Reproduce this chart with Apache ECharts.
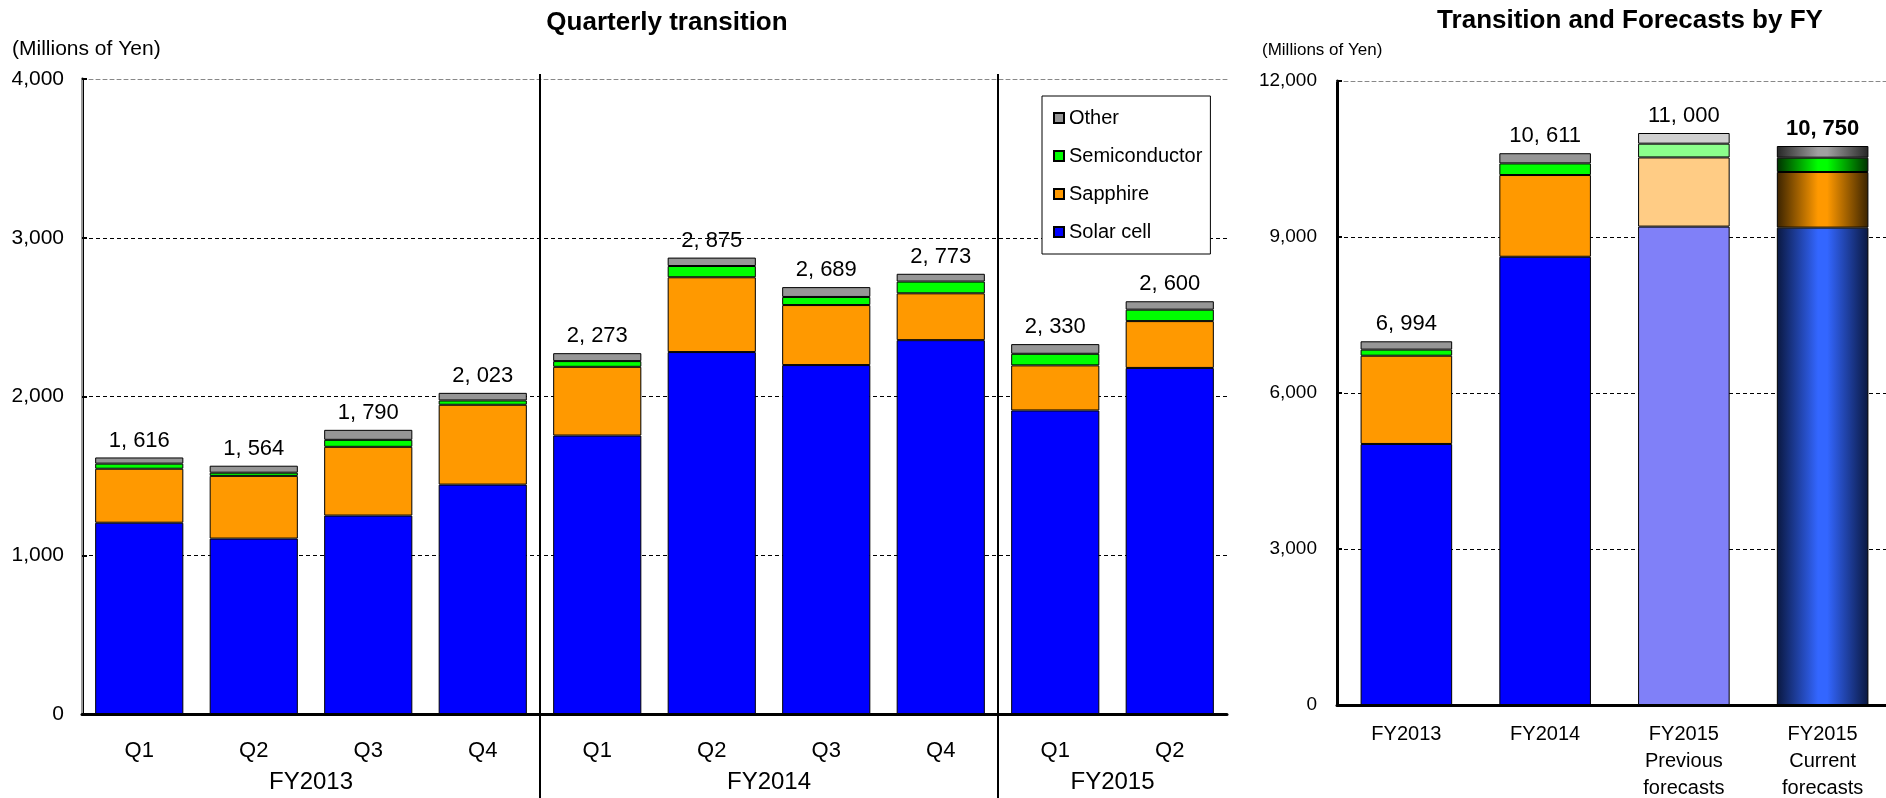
<!DOCTYPE html>
<html>
<head>
<meta charset="utf-8">
<title>Sales by segment</title>
<script src="https://cdn.jsdelivr.net/npm/echarts@6/dist/echarts.min.js"></script>
<style>
    html, body { margin: 0; padding: 0; background: #fff; }
    #main { width: 1886px; height: 798px; }
</style>
</head>
<body>
<div id="main"></div>
<script type="text/javascript">
    // left chart: quarterly
    var quarters = ['Q1', 'Q2', 'Q3', 'Q4', 'Q1', 'Q2', 'Q3', 'Q4', 'Q1', 'Q2'];
    var fiscalYears = ['FY2013', 'FY2014', 'FY2015'];
    var fyCenters = [2, 6, 9];      // middle of each fiscal year group, in quarter units
    var fyBreaks = [4, 8];          // where one fiscal year ends
    var solarQ = [1205, 1105, 1250, 1445, 1754, 2280, 2198, 2355, 1912, 2180];
    var sapphireQ = [340, 395, 433, 503, 433, 471, 378, 295, 284, 295];
    var semiQ = [32, 20, 44, 27, 36, 71, 51, 74, 73, 72];
    var otherQ = [39, 44, 63, 48, 50, 53, 62, 49, 61, 53];
    var totalQ = [1616, 1564, 1790, 2023, 2273, 2875, 2689, 2773, 2330, 2600];

    // right chart: by fiscal year
    var years = ['FY2013', 'FY2014', 'FY2015\nPrevious\nforecasts', 'FY2015\nCurrent\nforecasts'];
    var solarY = [5020, 8620, 9200, 9180];
    var sapphireY = [1697, 1572, 1330, 1070];
    var semiY = [117, 223, 265, 275];
    var otherY = [160, 196, 205, 225];
    var totalY = [6994, 10611, 11000, 10750];

    var segNames = ['Solar cell', 'Sapphire', 'Semiconductor', 'Other'];
    var segColors = ['#0000FF', '#FF9900', '#00FF00', '#969696'];
    var prevColors = ['#8080F8', '#FFCC85', '#8CFF8C', '#D0D0D0'];
    var darkColors = ['#0A1840', '#3A2300', '#003000', '#262626'];
    var brightColors = ['#3366FF', '#FF9900', '#00FF00', '#A0A0A0'];

    var font = "'Liberation Sans', Arial, sans-serif";

    function fmt(n) {
        return n.toLocaleString('en-US').replace(',', ', ');
    }

    var quarterSeg = [solarQ, sapphireQ, semiQ, otherQ];
    var yearSeg = [solarY, sapphireY, semiY, otherY];

    var series = [];
    segNames.forEach(function (name, i) {
        var s = {
            name: name,
            type: 'bar',
            stack: 'quarter',
            xAxisIndex: 0,
            yAxisIndex: 0,
            barCategoryGap: '23%',
            data: quarterSeg[i],
            itemStyle: { color: segColors[i], borderColor: '#000', borderWidth: 1 }
        };
        if (i == 3) {
            s.label = {
                show: true, position: 'top', distance: 6,
                color: '#000', fontSize: 22, fontFamily: font,
                formatter: function (p) { return fmt(totalQ[p.dataIndex]); }
            };
        }
        series.push(s);
    });

    segNames.forEach(function (name, i) {
        var data = yearSeg[i].map(function (v, j) {
            var item = { value: v };
            if (j == 2) {
                item.itemStyle = { color: prevColors[i] };
            } else if (j == 3) {
                item.itemStyle = {
                    color: new echarts.graphic.LinearGradient(0, 0, 1, 0, [
                        { offset: 0, color: darkColors[i] },
                        { offset: 0.45, color: brightColors[i] },
                        { offset: 0.55, color: brightColors[i] },
                        { offset: 1, color: darkColors[i] }
                    ])
                };
                if (i == 3) item.label = { fontWeight: 'bold' };
            }
            return item;
        });
        var s = {
            name: name,
            type: 'bar',
            stack: 'year',
            xAxisIndex: 3,
            yAxisIndex: 2,
            barCategoryGap: '34%',
            data: data,
            itemStyle: { color: segColors[i], borderColor: '#000', borderWidth: 1 }
        };
        if (i == 3) {
            s.label = {
                show: true, position: 'top', distance: 6,
                color: '#000', fontSize: 22, fontFamily: font,
                formatter: function (p) { return fmt(totalY[p.dataIndex]); }
            };
        }
        series.push(s);
    });

    var myChart = echarts.init(document.getElementById('main'));

    var option = {
        animation: false,
        backgroundColor: '#fff',
        textStyle: { fontFamily: font, color: '#000' },
        title: [
            { text: 'Quarterly transition', left: 667, top: 10, textAlign: 'center', padding: 0,
              textStyle: { fontSize: 26, fontWeight: 'bold', color: '#000', fontFamily: font } },
            { text: 'Transition and Forecasts by FY', left: 1630, top: 8, textAlign: 'center', padding: 0,
              textStyle: { fontSize: 26, fontWeight: 'bold', color: '#000', fontFamily: font } },
            { text: '(Millions of Yen)', left: 12, top: 39, padding: 0,
              textStyle: { fontSize: 21, fontWeight: 'normal', color: '#000', fontFamily: font } },
            { text: '(Millions of Yen)', left: 1262, top: 42, padding: 0,
              textStyle: { fontSize: 17, fontWeight: 'normal', color: '#000', fontFamily: font } }
        ],
        legend: {
            data: ['Other', 'Semiconductor', 'Sapphire', 'Solar cell'],
            orient: 'vertical',
            left: 1042,
            top: 96,
            icon: 'rect',
            itemWidth: 10,
            itemHeight: 10,
            itemGap: 18,
            padding: [12, 8, 12, 11],
            backgroundColor: '#fff',
            borderColor: '#000',
            borderWidth: 1,
            selectedMode: false,
            textStyle: { fontSize: 20, color: '#000', fontFamily: font }
        },
        grid: [
            { left: 82, right: 659, top: 79, bottom: 84, outerBoundsMode: 'none' },
            { left: 1337, right: -6, top: 81, bottom: 93, outerBoundsMode: 'none' }
        ],
        xAxis: [
            {
                gridIndex: 0, type: 'category', data: quarters,
                axisLine: { onZero: false, lineStyle: { color: '#000', width: 3 } },
                axisTick: { inside: true, length: 6, lineStyle: { color: '#000', width: 2 } },
                axisLabel: { color: '#000', fontSize: 22, margin: 26, fontFamily: font }
            },
            {
                gridIndex: 0, type: 'value', min: 0, max: 10, position: 'bottom',
                axisLine: { show: false, onZero: false },
                splitLine: { show: false },
                axisTick: { show: true, customValues: fyBreaks, length: 90, lineStyle: { color: '#000', width: 2 } },
                axisLabel: {
                    customValues: fyCenters, margin: 56, color: '#000', fontSize: 24, fontFamily: font,
                    formatter: function (v) { return fiscalYears[fyCenters.indexOf(v)]; }
                }
            },
            {
                gridIndex: 0, type: 'value', min: 0, max: 10, position: 'bottom',
                axisLine: { show: false, onZero: false },
                splitLine: { show: false },
                axisLabel: { show: false },
                axisTick: { show: true, customValues: fyBreaks, inside: true, length: 640, lineStyle: { color: '#000', width: 2 } }
            },
            {
                gridIndex: 1, type: 'category', data: years,
                axisLine: { onZero: false, lineStyle: { color: '#000', width: 3 } },
                axisTick: { inside: true, length: 6, lineStyle: { color: '#000', width: 2 } },
                axisLabel: { color: '#000', fontSize: 20, lineHeight: 27, margin: 16, fontFamily: font }
            },
            // grey dashed top borders
            {
                gridIndex: 0, type: 'value', min: 0, max: 10, position: 'top',
                axisLine: { show: true, onZero: false, lineStyle: { color: '#888', type: [4, 3], width: 1 } },
                axisTick: { show: false }, axisLabel: { show: false }, splitLine: { show: false }
            },
            {
                gridIndex: 1, type: 'value', min: 0, max: 10, position: 'top',
                axisLine: { show: true, onZero: false, lineStyle: { color: '#888', type: [4, 3], width: 1 } },
                axisTick: { show: false }, axisLabel: { show: false }, splitLine: { show: false }
            }
        ],
        yAxis: [
            {
                gridIndex: 0, type: 'value', min: 0, max: 4000, interval: 1000,
                axisLine: { show: true, lineStyle: { color: '#000', width: 3 } },
                axisTick: { show: true, inside: true, length: 5, lineStyle: { color: '#000', width: 2 } },
                axisLabel: { color: '#000', fontSize: 21, margin: 18, fontFamily: font,
                    formatter: function (v) { return v.toLocaleString('en-US'); } },
                splitLine: { show: true, showMaxLine: false, lineStyle: { color: '#000', type: [4, 3], width: 1 } }
            },
            {
                gridIndex: 0, type: 'value', min: 0, max: 4000, position: 'right',
                axisLine: { show: true, lineStyle: { color: '#999', width: 2 } },
                axisTick: { show: false },
                axisLabel: { show: false },
                splitLine: { show: false }
            },
            {
                gridIndex: 1, type: 'value', min: 0, max: 12000, interval: 3000,
                axisLine: { show: true, lineStyle: { color: '#000', width: 3 } },
                axisTick: { show: true, inside: true, length: 5, lineStyle: { color: '#000', width: 2 } },
                axisLabel: { color: '#000', fontSize: 19, margin: 20, fontFamily: font,
                    formatter: function (v) { return v.toLocaleString('en-US'); } },
                splitLine: { show: true, showMaxLine: false, lineStyle: { color: '#000', type: [4, 3], width: 1 } }
            }
        ],
        series: series
    };

    myChart.setOption(option);
</script>
</body>
</html>
